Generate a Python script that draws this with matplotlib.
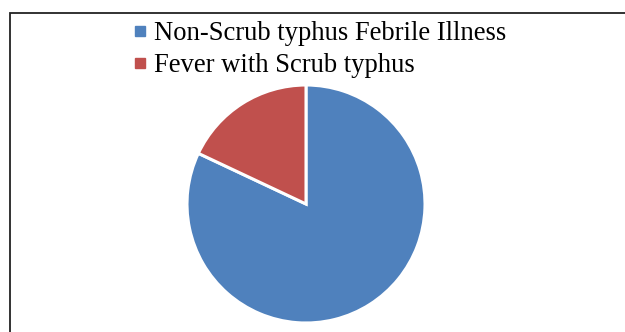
import matplotlib
matplotlib.use("Agg")
import matplotlib.pyplot as plt
from matplotlib.lines import Line2D
from matplotlib.patches import Rectangle

# Datos del gráfico
categorias = ["Non-Scrub typhus Febrile Illness", "Fever with Scrub typhus"]
porcentajes = [82, 18]
colores = ["#4F81BD", "#C0504D"]

plt.rcParams['font.family'] = ['Liberation Serif', 'DejaVu Serif']

W, H = 625, 332
fig = plt.figure(figsize=(W / 100, H / 100), dpi=100)

# Marco del gráfico (recortado a la derecha y abajo)
marco = Rectangle((9.5 / W, -0.1), 1.2, (H - 13) / H + 0.1, transform=fig.transFigure,
                  fill=False, edgecolor="#222222", linewidth=1.3)
fig.patches.append(marco)

# Pastel
cx, cy, r = 306, 204, 119
ax = fig.add_axes([(cx - r) / W, (H - cy - r) / H, 2 * r / W, 2 * r / H])
ax.pie(porcentajes, colors=colores, startangle=90, counterclock=False,
       wedgeprops=dict(edgecolor="white", linewidth=2.2))
ax.set_xlim(-1, 1)
ax.set_ylim(-1, 1)
ax.axis("off")

# Leyenda
handles = [Line2D([], [], marker="s", linestyle="none", markersize=6.6,
                  markerfacecolor=c, markeredgecolor=c) for c in colores]
fig.legend(handles, categorias, loc="upper left", bbox_to_anchor=(119 / W, (H - 8) / H),
           frameon=False, fontsize=19.2, handlelength=0.6, handletextpad=0.2,
           labelspacing=0.25, borderpad=0)

fig.savefig("out.png", dpi=100)
